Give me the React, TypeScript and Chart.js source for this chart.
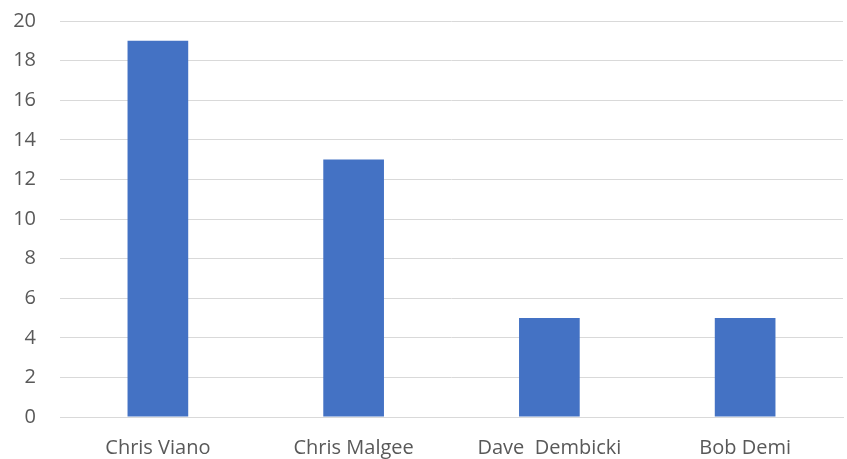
import React, { useEffect, useRef } from "react";
import { Chart, registerables } from "chart.js";

Chart.register(...registerables);

const categories = ["Chris Viano", "Chris Malgee", "Dave  Dembicki", "Bob Demi"];
const values = [19, 13, 5, 5];

export default function App() {
  const ref = useRef<HTMLCanvasElement | null>(null);
  useEffect(() => {
    document.body.style.margin = "0";
    if (!ref.current) return;
    const chart = new Chart(ref.current, {
      type: "bar",
      data: {
        labels: categories,
        datasets: [
          {
            data: values,
            backgroundColor: "#4472C4",
            categoryPercentage: 1,
            barPercentage: 0.31,
          },
        ],
      },
      options: {
        animation: false,
        responsive: false,
        devicePixelRatio: 1,
        layout: { padding: { top: 21, right: 4, left: 0, bottom: 0 } },
        plugins: { legend: { display: false }, tooltip: { enabled: false } },
        scales: {
          x: {
            grid: { display: false, drawTicks: false },
            border: { display: true, color: "#D9D9D9", width: 1 },
            ticks: {
              color: "#595959",
              font: { family: "Open Sans", size: 20 },
              padding: 19,
              maxRotation: 0,
              autoSkip: false,
            },
            afterFit: (s: any) => {
              s.height = 42;
            },
          },
          y: {
            min: 0,
            max: 20,
            ticks: {
              stepSize: 2,
              color: "#595959",
              font: { family: "Open Sans", size: 20 },
              padding: 4,
            },
            grid: {
              color: "#D9D9D9",
              drawTicks: true,
              tickLength: 20,
              tickColor: "rgba(0,0,0,0)",
              lineWidth: 1,
            },
            border: { display: false },
            afterFit: (s: any) => {
              s.width = 60;
            },
          },
        },
      },
    });
    return () => chart.destroy();
  }, []);
  return <canvas ref={ref} width={847} height={459} style={{ display: "block" }} />;
}
